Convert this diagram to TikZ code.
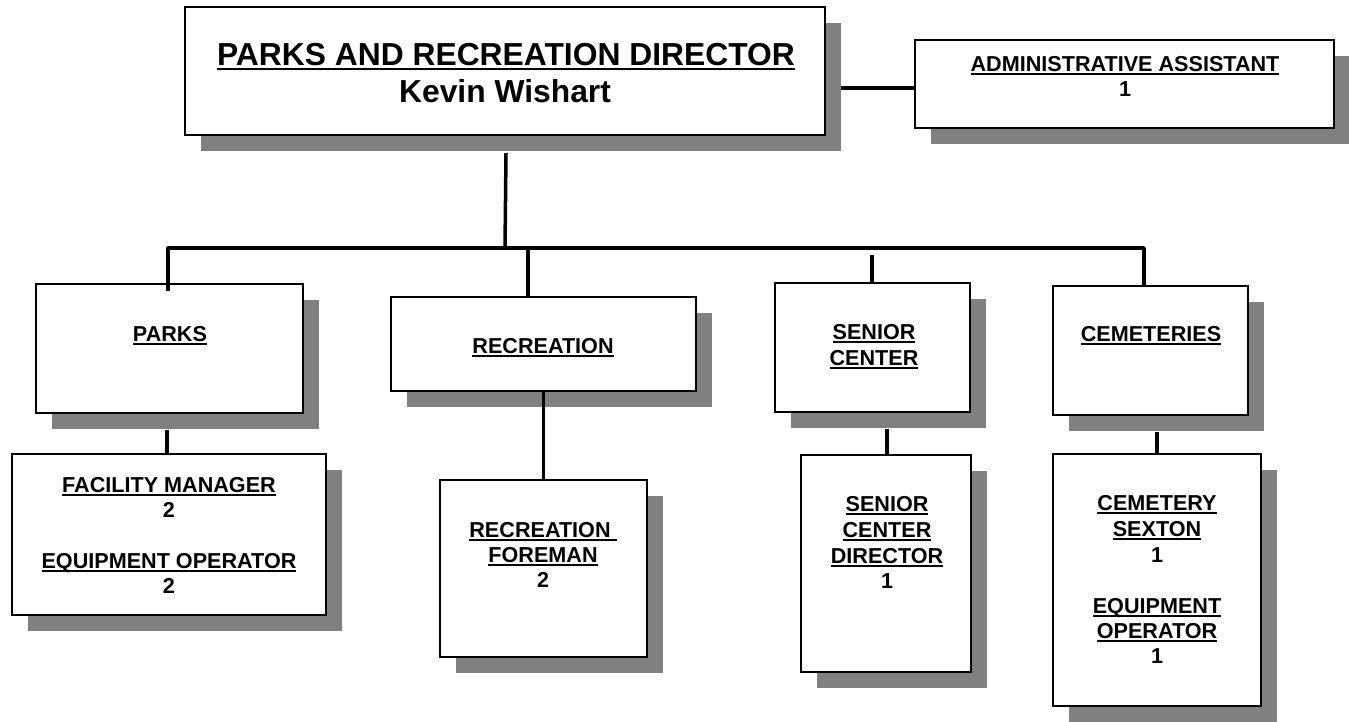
\documentclass[tikz,border=0pt]{standalone}
\usepackage{fontspec}
\setmainfont{Liberation Sans}
\usetikzlibrary{shadows,calc}
\definecolor{shadowgray}{HTML}{808080}
% underlined text with a rule at a fixed distance below the baseline
\newcommand\ultext[1]{\setbox0=\hbox{#1}\rlap{\rule[-3.6pt]{\wd0}{1.8pt}}\box0}
\newcommand\ultitle[1]{\setbox0=\hbox{#1}\rlap{\rule[-5.2pt]{\wd0}{2.6pt}}\box0}
\newcommand\boxfnt{\fontsize{21.6pt}{25pt}\selectfont\bfseries}
\newcommand\titlefnt{\fontsize{31.8pt}{36pt}\selectfont\bfseries}

\begin{document}
\begin{tikzpicture}[x=1pt,y=-1pt,
  box/.style={draw=black, line width=2pt, fill=white, inner sep=0pt, rectangle,
    drop shadow={shadow xshift=16pt, shadow yshift=-16pt, fill=shadowgray, opacity=1}},
  conn/.style={draw=black, line width=3.5pt, line join=round},
  lbl/.style={anchor=base, inner sep=0pt, font=\boxfnt},
  ttl/.style={anchor=base, inner sep=0pt, font=\titlefnt}]
\useasboundingbox (0,0) rectangle (1349,721);

% boxes
\node[box, minimum width=640pt, minimum height=128pt] (dir)  at (505,71) {};
\node[box, minimum width=419pt, minimum height=88pt]  (adm)  at (1124.5,84) {};
\node[box, minimum width=267pt, minimum height=129pt] (parks) at (169.5,348.5) {};
\node[box, minimum width=305pt, minimum height=94pt]  (rec)  at (543.5,344) {};
\node[box, minimum width=195pt, minimum height=129pt] (sen)  at (872.5,347.5) {};
\node[box, minimum width=195pt, minimum height=129pt] (cem)  at (1150.5,350.5) {};
\node[box, minimum width=314pt, minimum height=161pt] (fac)  at (169,534.5) {};
\node[box, minimum width=207pt, minimum height=177pt] (frm)  at (543.5,568.5) {};
\node[box, minimum width=170pt, minimum height=217pt] (sdir) at (886,563.5) {};
\node[box, minimum width=208pt, minimum height=252pt] (sext) at (1157,580) {};

% connectors
\coordinate (busL) at (168,248);
\coordinate (busR) at (1144,248);
\coordinate (recTop) at (528,248);
\coordinate (senTop) at (872,255);
\draw[conn] ($(adm.west)+(0,4)$) -- ($(dir.east |- adm.west)+(15,4)$);
\draw[conn] ($(dir.south)+(1,17)$) -- (dir.south |- busL);
\draw[conn] ($(parks.north)+(-1.5,8)$) -- (busL) -- (busR) -- (busR |- cem.north);
\draw[conn] (recTop) -- (recTop |- rec.north);
\draw[conn] (senTop) -- (senTop |- sen.north);
\draw[conn] ($(fac.north |- parks.south)+(-2,16)$) -- ($(fac.north)+(-2,0)$);
\draw[conn] (rec.south) -- (rec.south |- frm.north);
\draw[conn] ($(sdir.north |- sen.south)+(1,16)$) -- ($(sdir.north)+(1,0)$);
\draw[conn] ($(sext.north |- cem.south)+(0,16)$) -- (sext.north);

% texts
\node[ttl] (dirT1) at (506,65) {\ultitle{PARKS AND RECREATION DIRECTOR}};
\node[ttl] (dirT2) at (505,102) {Kevin Wishart};
\node[lbl] (admT1) at (1125,71) {\ultext{ADMINISTRATIVE ASSISTANT}};
\node[lbl] (admT2) at (1125,96) {1};
\node[lbl] (parT) at (170,341) {\ultext{PARKS}};
\node[lbl] (recT) at (543,353) {\ultext{RECREATION}};
\node[lbl] (senT1) at (874,339) {\ultext{SENIOR}};
\node[lbl] (senT2) at (874,365) {\ultext{CENTER}};
\node[lbl] (cemT) at (1151,341) {\ultext{CEMETERIES}};
\node[lbl] (facT1) at (169,492) {\ultext{FACILITY MANAGER}};
\node[lbl] (facT2) at (169,517) {2};
\node[lbl] (facT3) at (169,568) {\ultext{EQUIPMENT OPERATOR}};
\node[lbl] (facT4) at (169,593) {2};
\node[lbl] (frmT1) at (543,537) {\ultext{RECREATION\ }};
\node[lbl] (frmT2) at (543,562) {\ultext{FOREMAN}};
\node[lbl] (frmT3) at (543,587) {2};
\node[lbl] (sdirT1) at (887,511) {\ultext{SENIOR}};
\node[lbl] (sdirT2) at (887,537) {\ultext{CENTER}};
\node[lbl] (sdirT3) at (887,563) {\ultext{DIRECTOR}};
\node[lbl] (sdirT4) at (887,588) {1};
\node[lbl] (sextT1) at (1157,510) {\ultext{CEMETERY}};
\node[lbl] (sextT2) at (1157,536) {\ultext{SEXTON}};
\node[lbl] (sextT3) at (1157,562) {1};
\node[lbl] (sextT4) at (1157,613) {\ultext{EQUIPMENT}};
\node[lbl] (sextT5) at (1157,638) {\ultext{OPERATOR}};
\node[lbl] (sextT6) at (1157,663) {1};
\end{tikzpicture}
\end{document}
